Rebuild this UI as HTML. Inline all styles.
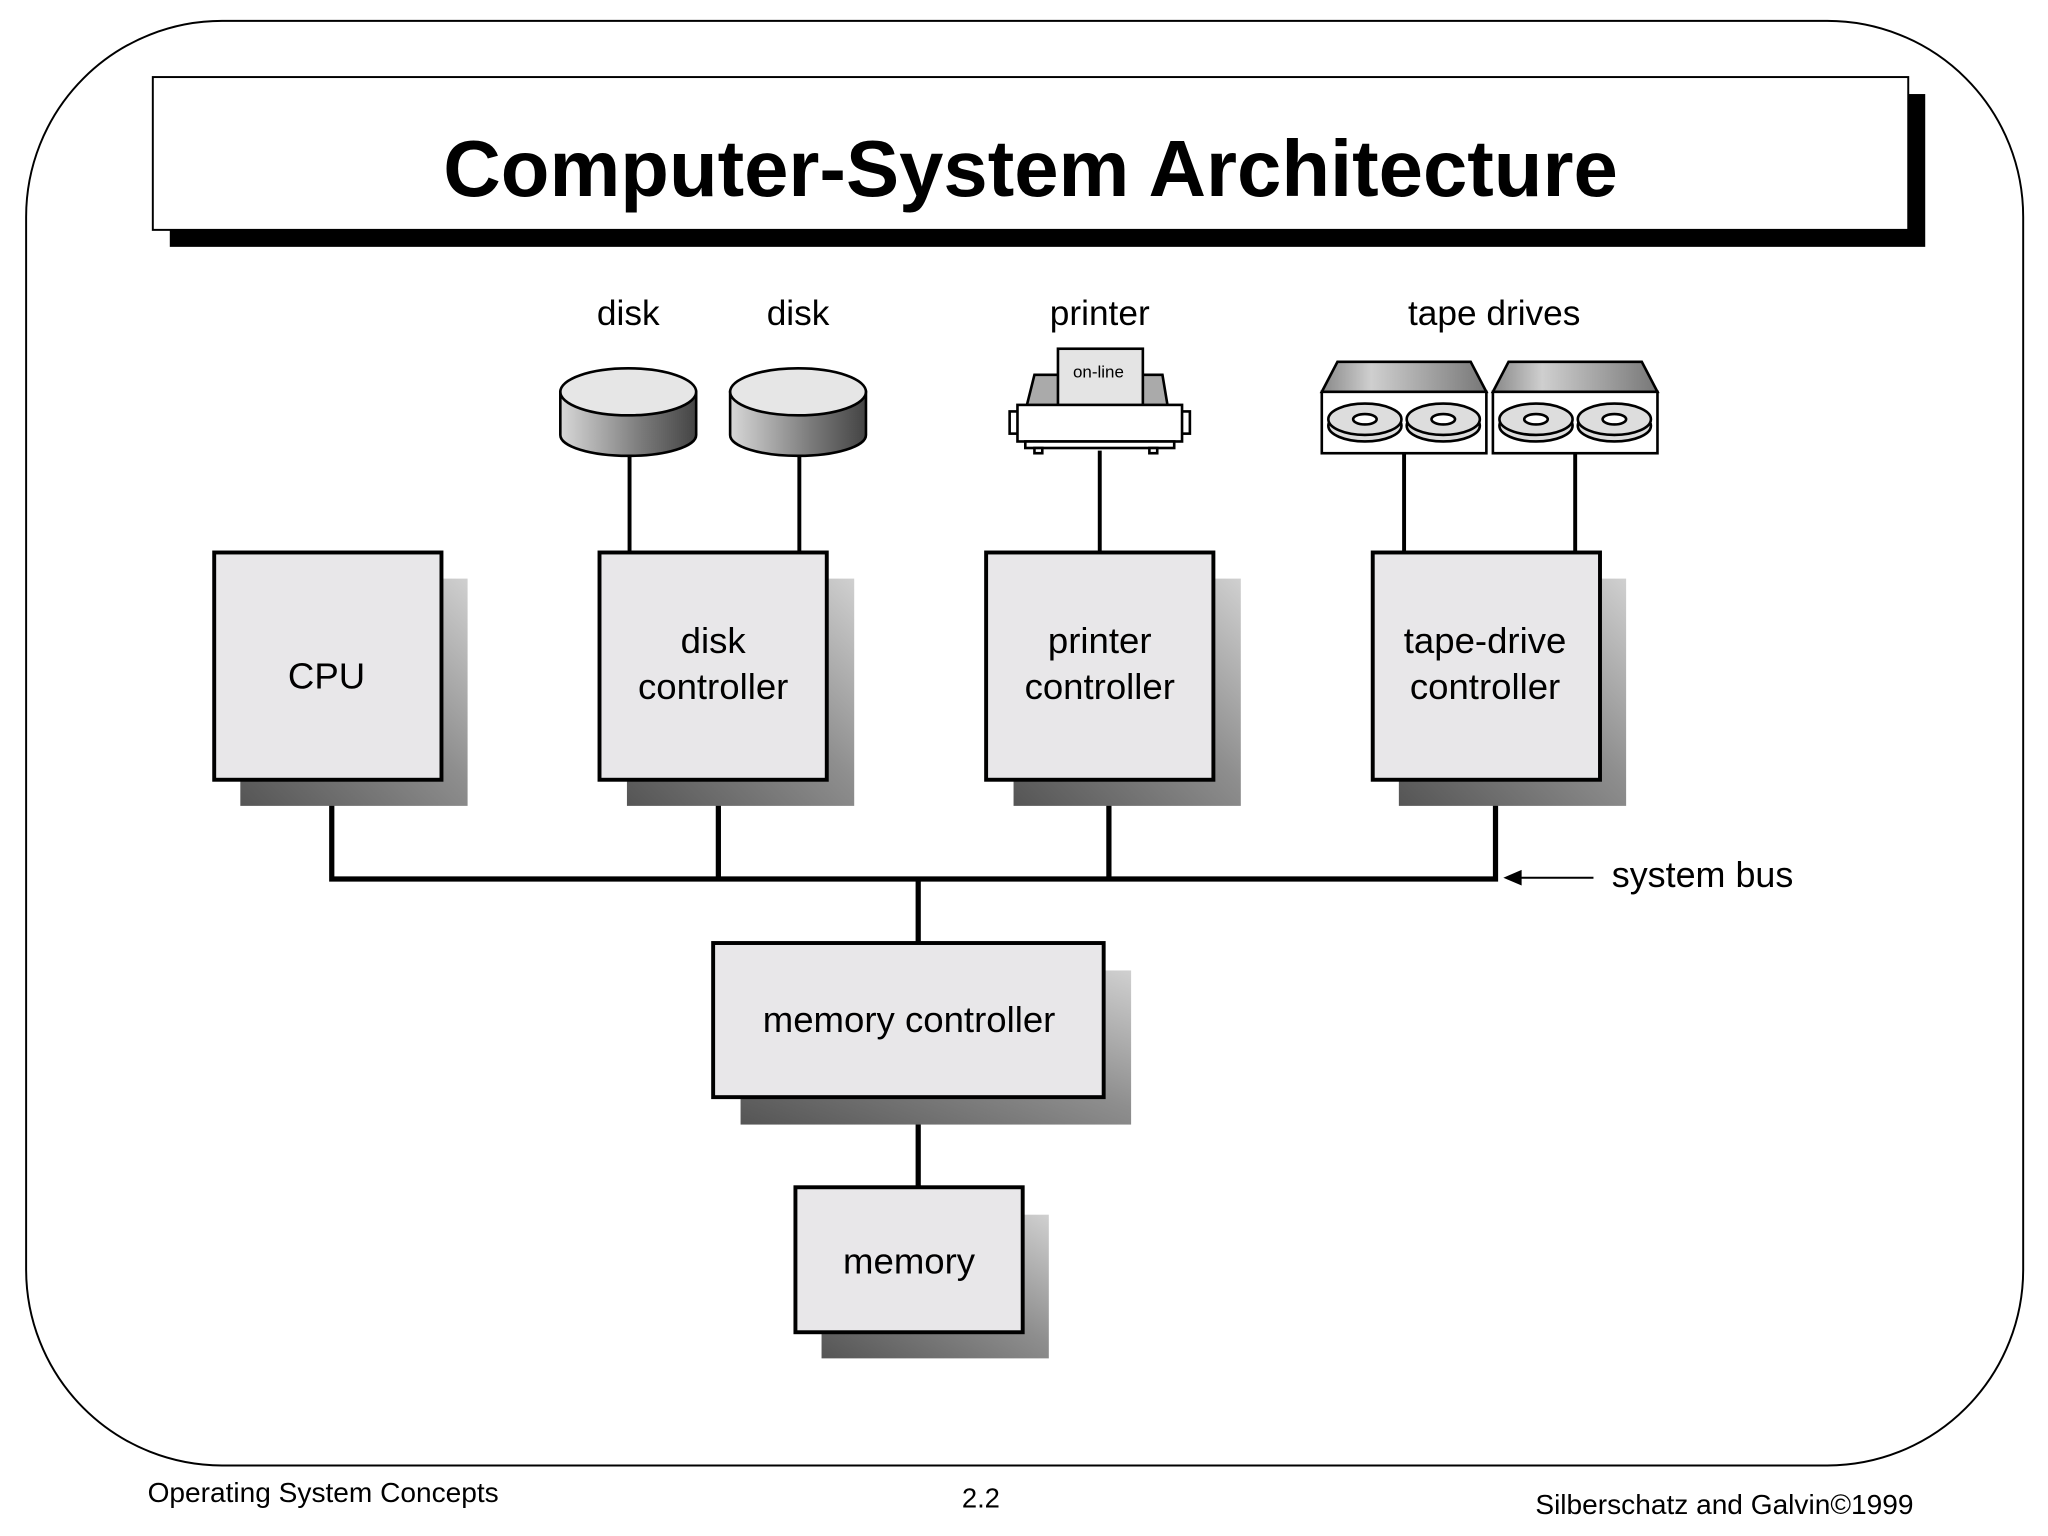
<!DOCTYPE html>
<html><head><meta charset="utf-8"><style>
html,body{margin:0;padding:0;background:#fff;}
svg{display:block;}
text{font-family:"Liberation Sans",sans-serif;fill:#000;}
</style></head><body>
<svg width="2048" height="1536" viewBox="0 0 1568 1176" xmlns="http://www.w3.org/2000/svg">
<defs>
<linearGradient id="sh" x1="0" y1="1" x2="1" y2="0">
<stop offset="0" stop-color="#555"/><stop offset="0.55" stop-color="#8e8e8e"/><stop offset="1" stop-color="#d0d0d0"/>
</linearGradient>
<linearGradient id="cyl" x1="0" y1="0" x2="1" y2="0">
<stop offset="0" stop-color="#d8d8d8"/><stop offset="0.6" stop-color="#7a7a7a"/><stop offset="1" stop-color="#444"/>
</linearGradient>
<linearGradient id="tp" x1="0" y1="0" x2="1" y2="0">
<stop offset="0" stop-color="#888"/><stop offset="0.3" stop-color="#cfcfcf"/><stop offset="1" stop-color="#777"/>
</linearGradient>
</defs>
<rect x="20" y="16" width="1529" height="1106" rx="150" ry="150" fill="none" stroke="#000" stroke-width="1.5"/>
<rect x="130" y="72" width="1344" height="117" fill="#000"/>
<rect x="117" y="59" width="1344" height="117" fill="#fff" stroke="#000" stroke-width="1.5"/>
<text x="789" y="150" font-size="61" font-weight="bold" text-anchor="middle">Computer-System Architecture</text>

<g font-size="27" text-anchor="middle">
<text x="481" y="249">disk</text><text x="611" y="249">disk</text>
<text x="842" y="249">printer</text><text x="1144" y="249">tape drives</text>
</g>

<g stroke="#000" stroke-width="3" fill="none">
<line x1="482" y1="345" x2="482" y2="423"/><line x1="612" y1="345" x2="612" y2="423"/>
<line x1="842" y1="345" x2="842" y2="423"/>
<line x1="1075" y1="347" x2="1075" y2="423"/><line x1="1206" y1="347" x2="1206" y2="423"/>
</g>
<g stroke="#000" stroke-width="4" fill="none">
<polyline points="254,597 254,673 1145,673 1145,597"/>
<line x1="550" y1="597" x2="550" y2="673"/><line x1="849" y1="597" x2="849" y2="673"/>
<line x1="703" y1="673" x2="703" y2="722"/><line x1="703" y1="840" x2="703" y2="909"/>
</g>
<line x1="1162" y1="672" x2="1220" y2="672" stroke="#000" stroke-width="1.5"/>
<polygon points="1151,672 1165,666 1165,678" fill="#000"/>
<text x="1234" y="679" font-size="27.5">system bus</text>

<g stroke="#000" stroke-width="2">
<path d="M429,300 L429,333 A52,16 0 0 0 533,333 L533,300 Z" fill="url(#cyl)"/>
<ellipse cx="481" cy="300" rx="52" ry="18" fill="#e6e6e6"/>
<path d="M559,300 L559,333 A52,16 0 0 0 663,333 L663,300 Z" fill="url(#cyl)"/>
<ellipse cx="611" cy="300" rx="52" ry="18" fill="#e6e6e6"/>
</g>

<g stroke="#000" stroke-width="2">
<polygon points="792,287 890,287 894,311 786,311" fill="#aaa"/>
<rect x="810" y="267" width="65" height="44" fill="#e4e4e4"/>
<rect x="773" y="315" width="8" height="17" fill="#fff"/>
<rect x="903" y="315" width="8" height="17" fill="#fff"/>
<rect x="779" y="310" width="126" height="28" fill="#fff"/>
<rect x="785" y="338" width="114" height="5" fill="#fff"/>
<rect x="792" y="343" width="6" height="4" fill="#fff"/><rect x="880" y="343" width="6" height="4" fill="#fff"/>
</g>
<text x="841" y="289" font-size="13" text-anchor="middle">on-line</text>

<g stroke="#000" stroke-width="2">
<g id="td">
<polygon points="1024,277 1126,277 1138,300 1012,300" fill="url(#tp)"/>
<rect x="1012" y="300" width="126" height="47" fill="#fff"/>
<ellipse cx="1045" cy="326" rx="28" ry="12" fill="#ddd"/>
<ellipse cx="1045" cy="321" rx="28" ry="12" fill="#ddd"/>
<ellipse cx="1045" cy="321" rx="9" ry="4" fill="#fff"/>
<ellipse cx="1105" cy="326" rx="28" ry="12" fill="#ddd"/>
<ellipse cx="1105" cy="321" rx="28" ry="12" fill="#ddd"/>
<ellipse cx="1105" cy="321" rx="9" ry="4" fill="#fff"/>
</g>
<use href="#td" transform="translate(131,0)"/>
</g>

<g>
<rect x="184" y="443" width="174" height="174" fill="url(#sh)"/>
<rect x="480" y="443" width="174" height="174" fill="url(#sh)"/>
<rect x="776" y="443" width="174" height="174" fill="url(#sh)"/>
<rect x="1071" y="443" width="174" height="174" fill="url(#sh)"/>
<rect x="567" y="743" width="299" height="118" fill="url(#sh)"/>
<rect x="629" y="930" width="174" height="110" fill="url(#sh)"/>
</g>
<g fill="#e8e7e9" stroke="#000" stroke-width="3">
<rect x="164" y="423" width="174" height="174"/>
<rect x="459" y="423" width="174" height="174"/>
<rect x="755" y="423" width="174" height="174"/>
<rect x="1051" y="423" width="174" height="174"/>
<rect x="546" y="722" width="299" height="118"/>
<rect x="609" y="909" width="174" height="111"/>
</g>
<g font-size="28" text-anchor="middle">
<text x="250" y="527">CPU</text>
<text x="546" y="500">disk</text><text x="546" y="535">controller</text>
<text x="842" y="500">printer</text><text x="842" y="535">controller</text>
<text x="1137" y="500">tape-drive</text><text x="1137" y="535">controller</text>
<text x="696" y="790">memory controller</text>
<text x="696" y="975">memory</text>
</g>

<text x="113" y="1150" font-size="21.5">Operating System Concepts</text>
<text x="751" y="1154" font-size="21" text-anchor="middle">2.2</text>
<text x="1465" y="1159" font-size="21.5" text-anchor="end">Silberschatz and  Galvin©1999</text>
</svg>
</body></html>
